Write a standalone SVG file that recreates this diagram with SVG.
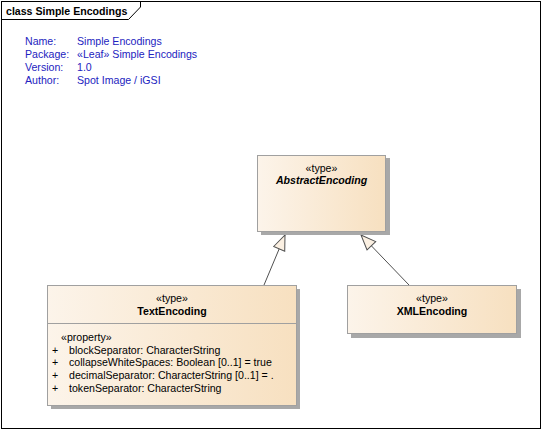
<svg xmlns="http://www.w3.org/2000/svg" width="542" height="430" viewBox="0 0 542 430">
<style>
text{font-family:"Liberation Sans",Arial,sans-serif;font-size:10.6px;fill:#000}
.hdr{fill:#2323c0}
.b{font-weight:bold}
.i{font-weight:bold;font-style:italic}
.box{fill:url(#g);stroke:#a0a0a0;stroke-width:1}
.sh{fill:#a8a8a8}
.c{text-anchor:middle}
.edge{stroke:#505050;stroke-width:1;fill:none}
</style>
<defs>
<linearGradient id="g" x1="0" y1="0" x2="1" y2="0">
<stop offset="0" stop-color="#fcf4ea"/>
<stop offset="1" stop-color="#f7e0c0"/>
</linearGradient>
<marker id="tri" viewBox="0 0 17 14" refX="16" refY="7" markerWidth="17" markerHeight="14" markerUnits="userSpaceOnUse" orient="auto">
<path d="M1,1 L16,7 L1,13 Z" fill="#fbf0e2" stroke="#505050" stroke-width="1"/>
</marker>
</defs>
<rect x="0" y="0" width="542" height="430" fill="#fff"/>
<g id="frame">
<rect x="1.5" y="1.5" width="539" height="427" fill="none" stroke="#000"/>
<path d="M1.5,19.5 H128.5 L140.5,7 V1.5" fill="none" stroke="#000"/>
<text x="6" y="15" class="b">class Simple Encodings</text>
</g>
<g id="info">
<text x="25" y="45" class="hdr">Name:</text><text x="77" y="45" class="hdr">Simple Encodings</text>
<text x="25" y="58" class="hdr">Package:</text><text x="77" y="58" class="hdr">«Leaf» Simple Encodings</text>
<text x="25" y="71" class="hdr">Version:</text><text x="77" y="71" class="hdr">1.0</text>
<text x="25" y="84" class="hdr">Author:</text><text x="77" y="84" class="hdr">Spot Image / iGSI</text>
</g>
<g id="connectors">
<line class="edge" x1="264" y1="285" x2="285" y2="235" marker-end="url(#tri)"/>
<line class="edge" x1="409" y1="285" x2="361" y2="235" marker-end="url(#tri)"/>
</g>
<g id="AbstractEncoding">
<rect class="sh" x="261" y="158" width="129" height="77"/>
<rect class="box" x="257.5" y="155.5" width="128" height="76"/>
<text x="321.5" y="172" class="c">«type»</text>
<text x="321.5" y="184" class="c i">AbstractEncoding</text>
</g>
<g id="TextEncoding">
<rect class="sh" x="51" y="289" width="249" height="120"/>
<rect class="box" x="47.5" y="285.5" width="249" height="120"/>
<line x1="47.5" y1="323.5" x2="296.5" y2="323.5" stroke="#a0a0a0"/>
<text x="172" y="302" class="c">«type»</text>
<text x="172" y="315" class="c b">TextEncoding</text>
<text x="61" y="341">«property»</text>
<text x="52" y="354">+</text><text x="69" y="354">blockSeparator: CharacterString</text>
<text x="52" y="366">+</text><text x="69" y="366">collapseWhiteSpaces: Boolean [0..1] = true</text>
<text x="52" y="379">+</text><text x="69" y="379">decimalSeparator: CharacterString [0..1] = .</text>
<text x="52" y="392">+</text><text x="69" y="392">tokenSeparator: CharacterString</text>
</g>
<g id="XMLEncoding">
<rect class="sh" x="351" y="289" width="170" height="49"/>
<rect class="box" x="347.5" y="285.5" width="169" height="48"/>
<text x="432" y="302" class="c">«type»</text>
<text x="432" y="315" class="c b">XMLEncoding</text>
</g>
</svg>
